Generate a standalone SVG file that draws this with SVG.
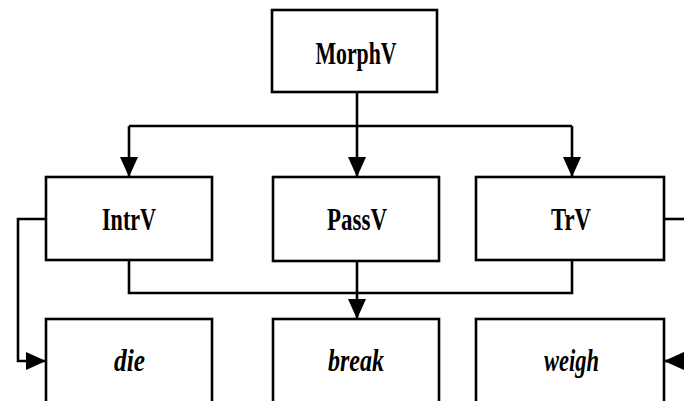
<svg xmlns="http://www.w3.org/2000/svg" width="684" height="401" viewBox="0 0 684 401">
<defs>
<style>
.box{fill:#fff;stroke:#000;stroke-width:2.6}
.lbl{font-family:"Liberation Serif","Times New Roman",serif;font-weight:bold;font-size:31px;text-anchor:middle;fill:#000}
.it{font-style:italic}
.con{fill:none;stroke:#000;stroke-width:2.6}
</style>
<marker id="ah" viewBox="0 0 20 18" refX="20" refY="9" markerWidth="20" markerHeight="18" markerUnits="userSpaceOnUse" orient="auto">
<path d="M0,0 L20,9 L0,18 Z" fill="#000"/>
</marker>
</defs>
<rect width="684" height="401" fill="#fff"/>
<g id="connectors">
<path class="con" d="M357,92 V126"/>
<path class="con" d="M129,126 H572"/>
<path class="con" d="M129,126 V177" marker-end="url(#ah)"/>
<path class="con" d="M357,126 V177" marker-end="url(#ah)"/>
<path class="con" d="M572,126 V177" marker-end="url(#ah)"/>
<path class="con" d="M129,260 V293 H572 V260"/>
<path class="con" d="M357,261 V319" marker-end="url(#ah)"/>
<path class="con" d="M46,219 H18 V361 H46" marker-end="url(#ah)"/>
<path class="con" d="M664,219 H684"/>
<path class="con" d="M684,361 H664" marker-end="url(#ah)"/>
</g>
<g id="MorphV"><rect class="box" x="272" y="10" width="165" height="82"/><text class="lbl" x="356" y="64" textLength="81" lengthAdjust="spacingAndGlyphs">MorphV</text></g>
<g id="IntrV"><rect class="box" x="46" y="177" width="166" height="83"/><text class="lbl" x="129" y="230" textLength="54" lengthAdjust="spacingAndGlyphs">IntrV</text></g>
<g id="PassV"><rect class="box" x="273" y="177" width="166" height="84"/><text class="lbl" x="357" y="230" textLength="60" lengthAdjust="spacingAndGlyphs">PassV</text></g>
<g id="TrV"><rect class="box" x="476" y="177" width="188" height="83"/><text class="lbl" x="571" y="230" textLength="40" lengthAdjust="spacingAndGlyphs">TrV</text></g>
<g id="die"><rect class="box" x="46" y="319" width="166" height="100"/><text class="lbl it" x="129.5" y="371" textLength="31" lengthAdjust="spacingAndGlyphs">die</text></g>
<g id="break"><rect class="box" x="273" y="319" width="166" height="100"/><text class="lbl it" x="356" y="371" textLength="56" lengthAdjust="spacingAndGlyphs">break</text></g>
<g id="weigh"><rect class="box" x="476" y="319" width="188" height="100"/><text class="lbl it" x="571.5" y="371" textLength="55" lengthAdjust="spacingAndGlyphs">weigh</text></g>
</svg>
